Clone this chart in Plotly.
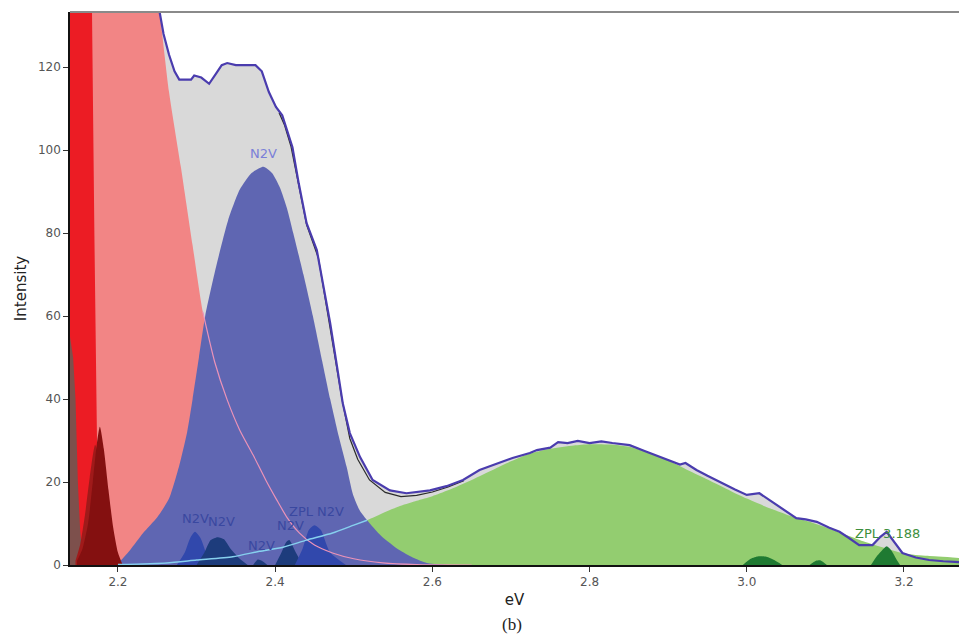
import plotly.graph_objects as go

# ---------------- data ----------------
meas_ev = [2.139, 2.200, 2.253, 2.258, 2.265, 2.272, 2.278, 2.293, 2.297, 2.306, 2.316,
           2.325, 2.332, 2.339, 2.350, 2.375, 2.383, 2.392, 2.401, 2.409, 2.416, 2.422,
           2.430, 2.440, 2.453, 2.461, 2.470, 2.478, 2.486, 2.495, 2.508, 2.524, 2.546,
           2.567, 2.597, 2.618, 2.639, 2.660, 2.682, 2.702, 2.724, 2.733, 2.750, 2.760,
           2.772, 2.785, 2.800, 2.815, 2.829, 2.851, 2.870, 2.893, 2.915, 2.922, 2.936,
           2.950, 2.965, 2.985, 3.000, 3.016, 3.030, 3.042, 3.063, 3.075, 3.089, 3.105,
           3.118, 3.130, 3.143, 3.160, 3.170, 3.178, 3.188, 3.198, 3.215, 3.232, 3.250, 3.270]
meas_val = [133.3, 133.3, 133.3, 128, 123, 119, 117, 117, 118, 117.5, 116,
            118.5, 120.5, 121, 120.5, 120.5, 119, 114, 110.4, 108.4, 104, 100.7,
            92, 82.4, 75.9, 68, 58.3, 48.7, 39, 31.8, 26, 20.5, 18,
            17.3, 18, 19, 20.5, 22.9, 24.5, 25.8, 27, 27.7, 28.3, 29.6,
            29.4, 29.9, 29.4, 29.8, 29.4, 28.9, 27.5, 25.8, 24.2, 24.6, 22.9,
            21.5, 20, 18.2, 16.9, 17.3, 15.5, 14, 11.3, 11.0, 10.4, 9,
            8, 6.5, 4.8, 4.8, 6.8, 8, 5.5, 2.9, 1.8, 1.2, 0.9, 0.7]

black_ev = [2.405, 2.412, 2.420, 2.440, 2.455, 2.465, 2.475, 2.485, 2.495, 2.505,
            2.520, 2.540, 2.560, 2.580, 2.600, 2.620, 2.640]
black_val = [109, 106, 101, 82, 74, 63, 51, 40, 30.5, 25.5,
             20.5, 17.5, 16.5, 16.8, 17.6, 18.8, 20.3]

green_ev = [2.139, 2.200, 2.262, 2.300, 2.346, 2.380, 2.410, 2.440, 2.473, 2.500, 2.517,
            2.540, 2.560, 2.580, 2.600, 2.620, 2.650, 2.680, 2.700, 2.720, 2.750, 2.780,
            2.800, 2.830, 2.850, 2.870, 2.900, 2.930, 2.950, 2.980, 3.000, 3.030, 3.050,
            3.080, 3.100, 3.130, 3.150, 3.170, 3.200, 3.230, 3.270]
green_val = [0, 0.1, 0.5, 1.2, 2.0, 3.3, 4.3, 6.0, 7.7, 9.6, 10.8,
             12.8, 14.3, 15.5, 16.6, 18.0, 20.5, 23.2, 25.0, 26.6, 28.0, 28.8,
             29.1, 29.0, 28.5, 27.4, 25.2, 22.4, 20.6, 17.8, 16.0, 13.6, 12.2,
             10.4, 9.1, 7.0, 5.6, 4.4, 2.8, 2.2, 1.7]

pink_ev = [2.139, 2.160, 2.200, 2.230, 2.253, 2.265, 2.280, 2.295, 2.308, 2.323, 2.339,
           2.355, 2.372, 2.388, 2.402, 2.415, 2.431, 2.450, 2.473, 2.500, 2.537, 2.580, 2.650]
pink_val = [300, 300, 220, 165, 133.3, 114, 96, 77, 61, 49, 39.8,
            32.5, 26.5, 20.5, 15.7, 11.5, 7.7, 4.8, 2.9, 1.5, 0.5, 0.1, 0]

n2v_ev = [2.139, 2.190, 2.200, 2.215, 2.232, 2.250, 2.265, 2.278, 2.288, 2.295, 2.303,
          2.311, 2.325, 2.340, 2.355, 2.370, 2.385, 2.396, 2.406, 2.415, 2.423, 2.436,
          2.448, 2.460, 2.470, 2.481, 2.491, 2.499, 2.508, 2.517, 2.535, 2.558, 2.575,
          2.593, 2.620]
n2v_val = [0, 0, 0.5, 3.5, 7.7, 11.5, 16, 24, 32, 40, 50,
           60, 72, 83, 90.5, 94.5, 96, 94.5, 91, 86, 80, 70,
           60, 49, 40, 31, 23.6, 17, 13, 10.8, 7, 3.6, 1.8,
           0.5, 0]

red_ev = [2.139, 2.160, 2.165, 2.167, 2.170, 2.172, 2.174, 2.176, 2.180, 2.190]
red_val = [300, 300, 200, 133, 80, 45, 20, 8, 2, 0]

brown_ev = [2.139, 2.143, 2.146, 2.149, 2.152, 2.155, 2.158]
brown_val = [55, 50, 40, 20, 8, 2, 0]

dred1_ev = [2.148, 2.155, 2.162, 2.168, 2.173, 2.177, 2.182, 2.188, 2.194, 2.200, 2.206]
dred1_val = [1, 4, 10, 20, 29, 33.3, 28, 18, 9, 3, 0]
dred2_ev = [2.146, 2.152, 2.158, 2.164, 2.171, 2.177, 2.184, 2.191, 2.198]
dred2_val = [1, 5, 12, 21, 29, 24, 14, 6, 0]

pkA_ev = [2.275, 2.285, 2.292, 2.298, 2.305, 2.312, 2.320]
pkA_val = [0, 3, 6.5, 8, 6.5, 3, 0]
pkB_ev = [2.300, 2.310, 2.318, 2.327, 2.335, 2.343, 2.355, 2.365]
pkB_val = [0, 3, 6, 6.7, 6.2, 4, 1.5, 0]
pkC_ev = [2.372, 2.378, 2.383, 2.390]
pkC_val = [0, 1.3, 1.0, 0]
pkD_ev = [2.400, 2.408, 2.414, 2.418, 2.425, 2.435]
pkD_val = [0, 3, 5.5, 6, 3.5, 0]
pkE_ev = [2.425, 2.435, 2.443, 2.450, 2.458, 2.470, 2.490]
pkE_val = [0, 4, 8.5, 9.6, 8.5, 3, 0]

g1_ev = [2.995, 3.005, 3.015, 3.025, 3.035, 3.045]
g1_val = [0, 1.5, 2.1, 2.0, 1.2, 0]
g2_ev = [3.080, 3.088, 3.094, 3.102]
g2_val = [0, 1.0, 1.1, 0]
g3_ev = [3.158, 3.165, 3.172, 3.178, 3.184, 3.190, 3.195]
g3_val = [0, 2, 3.5, 4.5, 3.5, 1.5, 0]

labels = ["N2V", "N2V", "N2V", "N2V", "N2V", "ZPL N2V", "ZPL 3.188"]
label_ev = [2.3856, 2.299, 2.332, 2.383, 2.419, 2.452, 3.179]
label_val = [99.3, 11.3, 10.6, 4.8, 9.6, 13.0, 7.7]
label_colors = ["#7b80d8", "#3a48a0", "#3a48a0", "#3a48a0", "#3a48a0", "#3a48a0", "#3d8f3d"]

x_ticks = [2.2, 2.4, 2.6, 2.8, 3.0, 3.2]
x_ticklabels = ["2.2", "2.4", "2.6", "2.8", "3.0", "3.2"]
y_ticks = [0, 20, 40, 60, 80, 100, 120]

X_RANGE = [2.139, 3.27]
Y_RANGE = [0, 133.3]

# ---------------- figure ----------------
fig = go.Figure()


def area(x, y, color, shape="spline", opacity=1.0):
    fig.add_trace(go.Scatter(x=x, y=y, mode="lines", fill="tozeroy",
                             fillcolor=color, opacity=opacity,
                             line=dict(color=color, width=0, shape=shape, smoothing=0.6),
                             hoverinfo="skip", showlegend=False))


def curve(x, y, color, width, shape="linear"):
    fig.add_trace(go.Scatter(x=x, y=y, mode="lines",
                             line=dict(color=color, width=width, shape=shape, smoothing=0.6),
                             hoverinfo="skip", showlegend=False))


area(meas_ev, meas_val, "#d9d9d9", shape="linear")
area(green_ev, green_val, "#93cd70")
area(pink_ev, pink_val, "#f28585")
area(n2v_ev, n2v_val, "#5f66b2")
area(red_ev, red_val, "#ec1c24", shape="linear")
area(brown_ev, brown_val, "#7d504c", shape="linear")
area(dred2_ev, dred2_val, "#a01a1a")
area(dred1_ev, dred1_val, "#841010", opacity=0.8)
for ex, ey, c in [(pkA_ev, pkA_val, "#3148ac"), (pkB_ev, pkB_val, "#1d3c7c"),
                  (pkC_ev, pkC_val, "#1d3c7c"), (pkD_ev, pkD_val, "#1d3c7c"),
                  (pkE_ev, pkE_val, "#3148ac")]:
    area(ex, ey, c)
for ex, ey in [(g1_ev, g1_val), (g2_ev, g2_val), (g3_ev, g3_val)]:
    area(ex, ey, "#1f7a32")

# component outlines drawn over the blue peak
pink_tail = [(a, b) for a, b in zip(pink_ev, pink_val) if a >= 2.30]
curve([p[0] for p in pink_tail], [p[1] for p in pink_tail], "#ec93b8", 1.2, "spline")
green_head = [(a, b) for a, b in zip(green_ev, green_val) if 2.19 <= a <= 2.52]
curve([p[0] for p in green_head], [p[1] for p in green_head], "#86d0ee", 1.5, "spline")

curve(black_ev, black_val, "#2a2a2a", 1.2)
curve(meas_ev, meas_val, "#4a3cae", 2.2)

for t, ex, ey, c in zip(labels, label_ev, label_val, label_colors):
    fig.add_annotation(x=ex, y=ey, text=t, showarrow=False,
                       font=dict(family="DejaVu Sans", size=13, color=c))

fig.add_annotation(xref="paper", yref="paper", x=0.497, y=-0.108, yanchor="middle",
                   text="(b)", showarrow=False,
                   font=dict(family="Liberation Serif", size=17, color="#222"))

fig.add_shape(type="line", xref="paper", yref="paper", x0=0, x1=1, y0=1, y1=1,
              line=dict(color="#8a8a8a", width=2))

fig.update_layout(
    width=959, height=640,
    margin=dict(l=70, r=0, t=12, b=75),
    paper_bgcolor="white", plot_bgcolor="white",
    font=dict(family="DejaVu Sans", color="#444"),
    xaxis=dict(range=X_RANGE, tickvals=x_ticks, ticktext=x_ticklabels,
               showgrid=False, zeroline=False, showline=True, linecolor="#111", linewidth=1.5,
               ticks="outside", ticklen=5, tickcolor="#333",
               tickfont=dict(size=12, color="#555"),
               title=dict(text="eV", font=dict(size=15, color="#222"), standoff=6)),
    yaxis=dict(range=Y_RANGE, tickvals=y_ticks,
               showgrid=False, zeroline=False, showline=True, linecolor="#111", linewidth=1.5,
               ticks="outside", ticklen=5, tickcolor="#333",
               tickfont=dict(size=12, color="#555"),
               title=dict(text="Intensity", font=dict(size=15, color="#222"), standoff=8)),
)

fig.write_html("out.html", config={"displayModeBar": False})

with open("out.html", "r", encoding="utf-8") as fh:
    html = fh.read()
html = html.replace("<body>", '<body style="margin:0;padding:0;overflow:hidden">', 1)
with open("out.html", "w", encoding="utf-8") as fh:
    fh.write(html)
